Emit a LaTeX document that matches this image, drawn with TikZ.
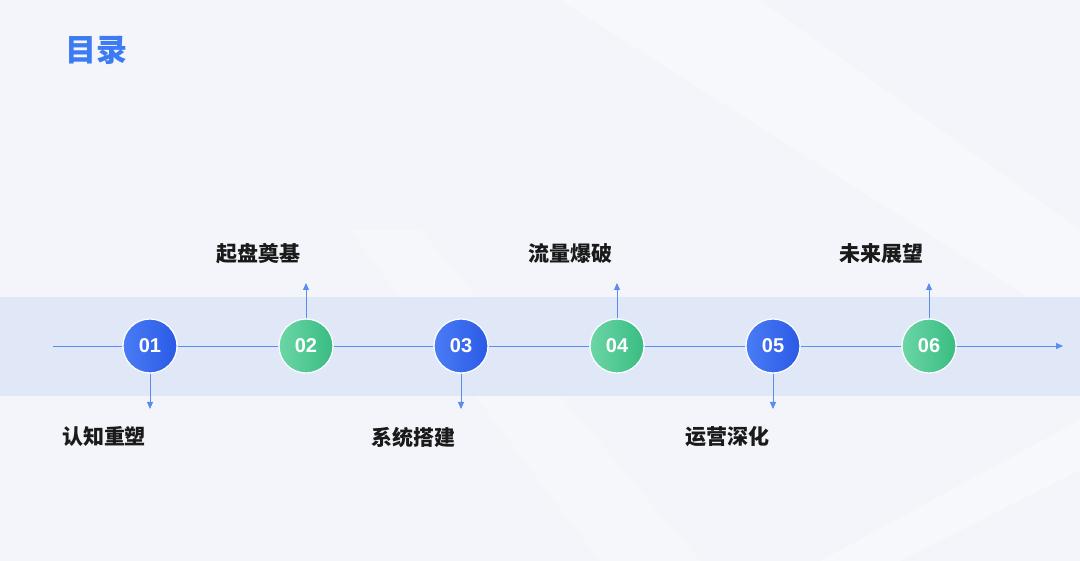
\documentclass[tikz,border=0pt]{standalone}
\usepackage{fontspec}
\setmainfont{Noto Sans CJK SC}
\newfontfamily\numfont{Liberation Sans}
\usetikzlibrary{arrows.meta}
\definecolor{bgc}{HTML}{F3F5FA}
\definecolor{bandc}{HTML}{DEE6F7}
\definecolor{linec}{HTML}{5B8CEF}
\definecolor{titlec}{HTML}{3D7BF2}
\definecolor{blueA}{HTML}{4A7CF5}
\definecolor{blueB}{HTML}{2A5AE6}
\definecolor{greenA}{HTML}{6CD6A6}
\definecolor{greenB}{HTML}{38BC82}
\definecolor{txtc}{HTML}{1A1A1A}
\tikzset{
  dot/.style={circle, minimum size=54pt, inner sep=0pt, draw=white, line width=1.2pt,
    text=white, font=\numfont\bfseries\fontsize{20}{20}\selectfont, shading angle=135},
  bluedot/.style={dot, left color=blueA, right color=blueB},
  greendot/.style={dot, left color=greenA, right color=greenB},
  lbl/.style={font=\bfseries\fontsize{21}{21}\selectfont, text=txtc, inner sep=0pt},
  conn/.style={draw=linec, line width=0.8pt},
  tip/.style={-{Triangle[length=7pt,width=6pt]}}
}
\begin{document}
\begin{tikzpicture}[x=1pt,y=-1pt]
\useasboundingbox (0,0) rectangle (1080,561);
\fill[bgc] (0,0) rectangle (1080,561);
% subtle light streaks
\fill[white,opacity=0.3] (560,0) -- (760,0) -- (1080,230) -- (1080,330) -- cycle;
\fill[white,opacity=0.25] (350,230) -- (420,230) -- (700,561) -- (600,561) -- cycle;
\fill[white,opacity=0.3] (820,561) -- (1080,420) -- (1080,470) -- (900,561) -- cycle;
% band
\fill[bandc,opacity=0.9] (0,297) rectangle (1080,396);
% title
\node[font=\bfseries\fontsize{31}{31}\selectfont, text=titlec, inner sep=0pt] (title) at (96,50) {目录};
% line ends
\coordinate (start) at (53,346);
\coordinate (end) at (1063,346);
% dots
\node[bluedot] (n1) at (150,346) {01};
\node[greendot] (n2) at (306,346) {02};
\node[bluedot] (n3) at (461,346) {03};
\node[greendot] (n4) at (617,346) {04};
\node[bluedot] (n5) at (773,346) {05};
\node[greendot] (n6) at (929,346) {06};
% main line segments
\draw[conn] (start) -- (n1.west);
\draw[conn] (n1.east) -- (n2.west);
\draw[conn] (n2.east) -- (n3.west);
\draw[conn] (n3.east) -- (n4.west);
\draw[conn] (n4.east) -- (n5.west);
\draw[conn] (n5.east) -- (n6.west);
\draw[conn,tip] (n6.east) -- (end);
% branch ends
\coordinate (d1) at (150,409);
\coordinate (u2) at (306,283);
\coordinate (d3) at (461,409);
\coordinate (u4) at (617,283);
\coordinate (d5) at (773,409);
\coordinate (u6) at (929,283);
\draw[conn,tip] (n1.south) -- (d1);
\draw[conn,tip] (n2.north) -- (u2);
\draw[conn,tip] (n3.south) -- (d3);
\draw[conn,tip] (n4.north) -- (u4);
\draw[conn,tip] (n5.south) -- (d5);
\draw[conn,tip] (n6.north) -- (u6);
% labels
\node[lbl] (t2) at (258,254) {起盘奠基};
\node[lbl] (t4) at (570,254) {流量爆破};
\node[lbl] (t6) at (881,254) {未来展望};
\node[lbl] (t1) at (104,437) {认知重塑};
\node[lbl] (t3) at (413,437) {系统搭建};
\node[lbl] (t5) at (727,437) {运营深化};
\end{tikzpicture}
\end{document}
